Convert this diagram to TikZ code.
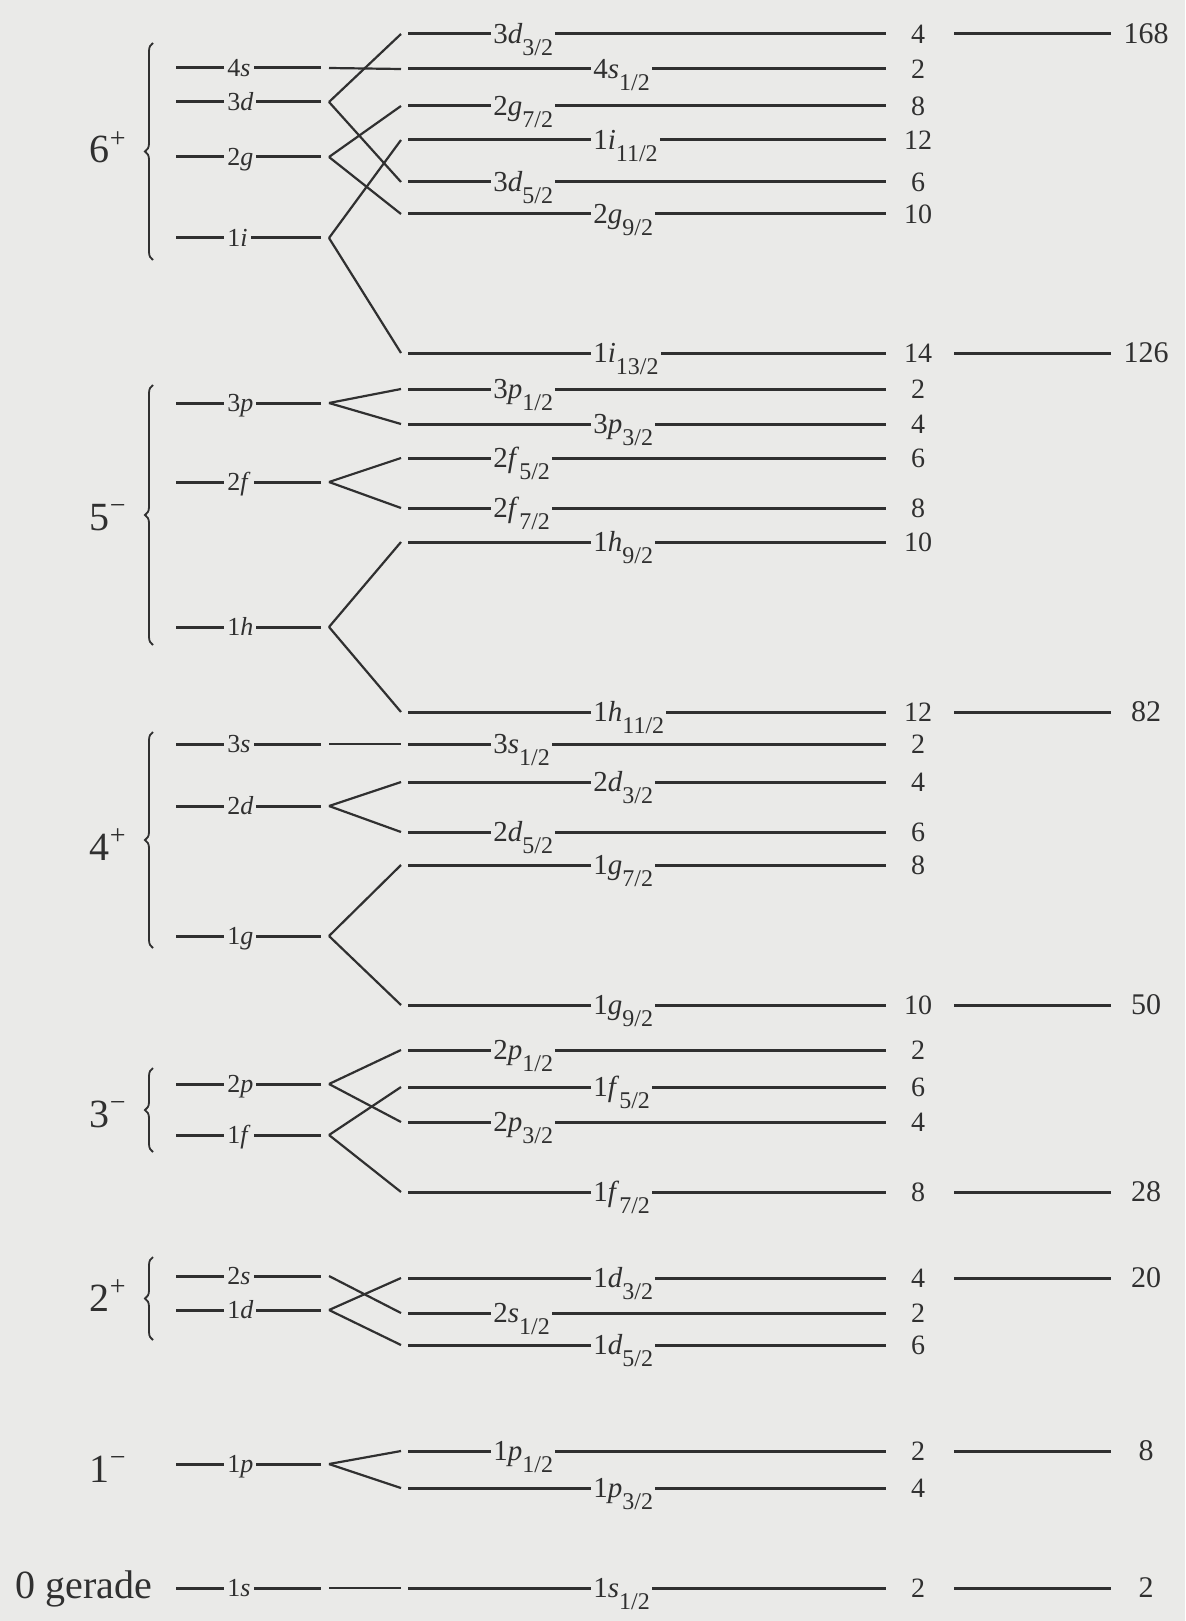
\documentclass[tikz,border=0pt]{standalone}
\usepackage{fontspec}
\setmainfont{Liberation Serif}
\usetikzlibrary{decorations.pathreplacing}
\definecolor{bg}{RGB}{234,234,232}
\definecolor{ink}{RGB}{48,48,48}
\newcommand{\sbx}[1]{\raisebox{-6pt}{\fontsize{12pt}{12pt}\selectfont #1}}
\tikzset{
  lvl/.style={draw=ink, line width=1.5pt},
  conn/.style={draw=ink, line width=1.1pt},
  rlab/.style={anchor=base west, fill=bg, inner xsep=1pt, inner ysep=0.5pt, text=ink, font=\fontsize{14.5pt}{14.5pt}\selectfont},
  llab/.style={anchor=base west, fill=bg, inner xsep=1.5pt, inner ysep=0.5pt, text=ink, font=\fontsize{13pt}{13pt}\selectfont},
  deg/.style={text=ink, inner sep=0pt, font=\fontsize{14pt}{14pt}\selectfont},
  cum/.style={text=ink, inner sep=0pt, font=\fontsize{15pt}{15pt}\selectfont},
  grp/.style={anchor=base east, text=ink, inner sep=0pt, font=\fontsize{20pt}{20pt}\selectfont},
  grpbrace/.style={draw=ink, line width=0.9pt, decorate, decoration={brace, amplitude=4pt}},
}
% right level: name, y, label x, digit, letter, subscript, degeneracy
\newcommand{\rlev}[7]{%
  \coordinate (#1-a) at (408,#2);
  \coordinate (#1-b) at (886,#2);
  \coordinate (#1-d) at (401,#2);
  \draw[lvl] (#1-a) -- (#1-b);
  \node[rlab] (#1-l) at (#3,#2+9.5) {#4\textit{#5}\sbx{#6}};
  \node[deg] (#1-n) at (918,#2) {#7};
}
% left level: name, y, digit, letter
\newcommand{\llev}[4]{%
  \coordinate (#1-a) at (176,#2);
  \coordinate (#1-b) at (321,#2);
  \coordinate (#1-c) at (329,#2);
  \draw[lvl] (#1-a) -- (#1-b);
  \node[llab] (#1-l) at (224,#2+8.5) {#3\textit{#4}};
}
% shell closure: name, y, number
\newcommand{\shellline}[3]{%
  \coordinate (#1-a) at (954,#2);
  \coordinate (#1-b) at (1111,#2);
  \draw[lvl] (#1-a) -- (#1-b);
  \node[cum] (#1-n) at (1146,#2) {#3};
}
\begin{document}
\begin{tikzpicture}[x=0.5pt, y=-0.5pt]
\useasboundingbox (0,0) rectangle (1185,1621);
\fill[bg] (0,0) rectangle (1185,1621);

% group labels
\node[grp] (g6) at (127,163) {6\textsuperscript{+}};
\node[grp] (g5) at (127,530) {5\textsuperscript{−}};
\node[grp] (g4) at (127,860) {4\textsuperscript{+}};
\node[grp] (g3) at (127,1127) {3\textsuperscript{−}};
\node[grp] (g2) at (127,1311) {2\textsuperscript{+}};
\node[grp] (g1) at (127,1482) {1\textsuperscript{−}};
\node[grp, anchor=base west] (g0) at (15,1598) {0 gerade};

% braces
\coordinate (b6t) at (153,43);   \coordinate (b6b) at (153,260);
\coordinate (b5t) at (153,385);  \coordinate (b5b) at (153,645);
\coordinate (b4t) at (153,732);  \coordinate (b4b) at (153,948);
\coordinate (b3t) at (153,1068); \coordinate (b3b) at (153,1152);
\coordinate (b2t) at (153,1257); \coordinate (b2b) at (153,1340);
\draw[grpbrace] (b6b) -- (b6t);
\draw[grpbrace] (b5b) -- (b5t);
\draw[grpbrace] (b4b) -- (b4t);
\draw[grpbrace] (b3b) -- (b3t);
\draw[grpbrace] (b2b) -- (b2t);

% left levels
\llev{L4s}{68}{4}{s}
\llev{L3d}{102}{3}{d}
\llev{L2g}{157}{2}{g}
\llev{L1i}{238}{1}{i}
\llev{L3p}{403}{3}{p}
\llev{L2f}{482}{2}{f}
\llev{L1h}{627}{1}{h}
\llev{L3s}{744}{3}{s}
\llev{L2d}{806}{2}{d}
\llev{L1g}{936}{1}{g}
\llev{L2p}{1084}{2}{p}
\llev{L1f}{1135}{1}{f}
\llev{L2s}{1276}{2}{s}
\llev{L1d}{1310}{1}{d}
\llev{L1p}{1464}{1}{p}
\llev{L1s}{1588}{1}{s}

% right levels
\rlev{R3d3}{34}{491}{3}{d}{3/2}{4}
\rlev{R4s1}{69}{591}{4}{s}{1/2}{2}
\rlev{R2g7}{106}{491}{2}{g}{7/2}{8}
\rlev{R1i11}{140}{591}{1}{i}{11/2}{12}
\rlev{R3d5}{182}{491}{3}{d}{5/2}{6}
\rlev{R2g9}{214}{591}{2}{g}{9/2}{10}
\rlev{R1i13}{353}{591}{1}{i}{13/2}{14}
\rlev{R3p1}{389}{491}{3}{p}{1/2}{2}
\rlev{R3p3}{424}{591}{3}{p}{3/2}{4}
\rlev{R2f5}{458}{491}{2}{f}{5/2}{6}
\rlev{R2f7}{508}{491}{2}{f}{7/2}{8}
\rlev{R1h9}{542}{591}{1}{h}{9/2}{10}
\rlev{R1h11}{712}{591}{1}{h}{11/2}{12}
\rlev{R3s1}{744}{491}{3}{s}{1/2}{2}
\rlev{R2d3}{782}{591}{2}{d}{3/2}{4}
\rlev{R2d5}{832}{491}{2}{d}{5/2}{6}
\rlev{R1g7}{865}{591}{1}{g}{7/2}{8}
\rlev{R1g9}{1005}{591}{1}{g}{9/2}{10}
\rlev{R2p1}{1050}{491}{2}{p}{1/2}{2}
\rlev{R1f5}{1087}{591}{1}{f}{5/2}{6}
\rlev{R2p3}{1122}{491}{2}{p}{3/2}{4}
\rlev{R1f7}{1192}{591}{1}{f}{7/2}{8}
\rlev{R1d3}{1278}{591}{1}{d}{3/2}{4}
\rlev{R2s1}{1313}{491}{2}{s}{1/2}{2}
\rlev{R1d5}{1345}{591}{1}{d}{5/2}{6}
\rlev{R1p1}{1451}{491}{1}{p}{1/2}{2}
\rlev{R1p3}{1488}{591}{1}{p}{3/2}{4}
\rlev{R1s1}{1588}{591}{1}{s}{1/2}{2}

% shell closures
\shellline{S168}{34}{168}
\shellline{S126}{353}{126}
\shellline{S82}{712}{82}
\shellline{S50}{1005}{50}
\shellline{S28}{1192}{28}
\shellline{S20}{1278}{20}
\shellline{S8}{1451}{8}
\shellline{S2}{1588}{2}

% connectors
\draw[conn] (L4s-c) -- (R4s1-d);
\draw[conn] (L3d-c) -- (R3d3-d);
\draw[conn] (L3d-c) -- (R3d5-d);
\draw[conn] (L2g-c) -- (R2g7-d);
\draw[conn] (L2g-c) -- (R2g9-d);
\draw[conn] (L1i-c) -- (R1i11-d);
\draw[conn] (L1i-c) -- (R1i13-d);
\draw[conn] (L3p-c) -- (R3p1-d);
\draw[conn] (L3p-c) -- (R3p3-d);
\draw[conn] (L2f-c) -- (R2f5-d);
\draw[conn] (L2f-c) -- (R2f7-d);
\draw[conn] (L1h-c) -- (R1h9-d);
\draw[conn] (L1h-c) -- (R1h11-d);
\draw[conn] (L3s-c) -- (R3s1-d);
\draw[conn] (L2d-c) -- (R2d3-d);
\draw[conn] (L2d-c) -- (R2d5-d);
\draw[conn] (L1g-c) -- (R1g7-d);
\draw[conn] (L1g-c) -- (R1g9-d);
\draw[conn] (L2p-c) -- (R2p1-d);
\draw[conn] (L2p-c) -- (R2p3-d);
\draw[conn] (L1f-c) -- (R1f5-d);
\draw[conn] (L1f-c) -- (R1f7-d);
\draw[conn] (L2s-c) -- (R2s1-d);
\draw[conn] (L1d-c) -- (R1d3-d);
\draw[conn] (L1d-c) -- (R1d5-d);
\draw[conn] (L1p-c) -- (R1p1-d);
\draw[conn] (L1p-c) -- (R1p3-d);
\draw[conn] (L1s-c) -- (R1s1-d);
\end{tikzpicture}
\end{document}
